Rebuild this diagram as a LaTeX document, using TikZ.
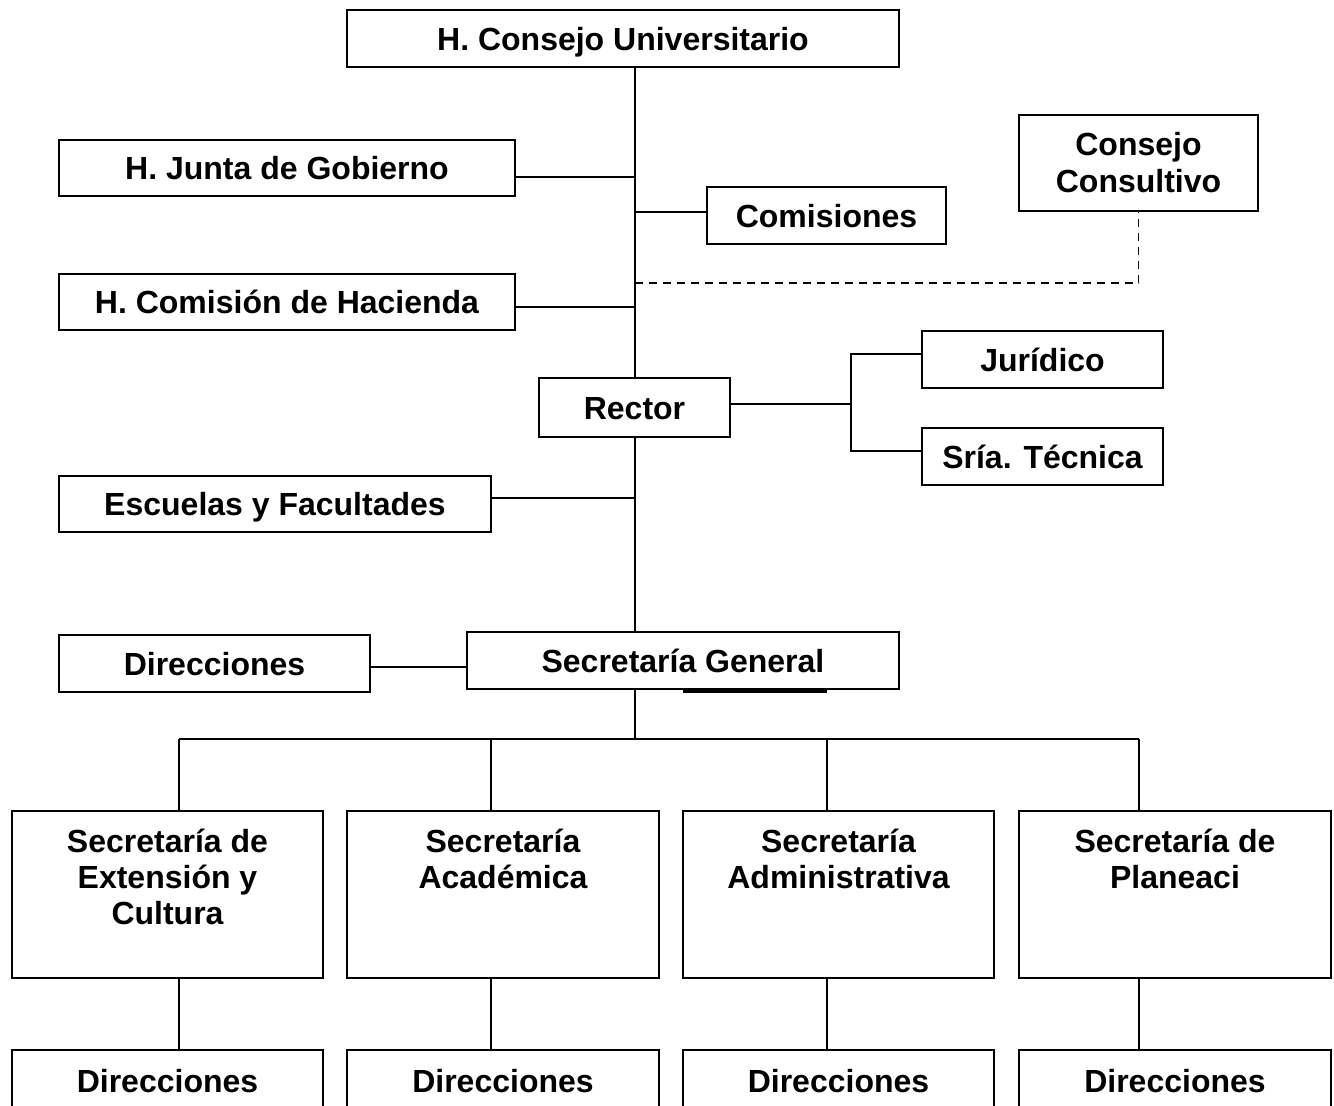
\documentclass[tikz,border=0pt]{standalone}
\usepackage{fontspec}
\setmainfont{Liberation Sans}
\begin{document}
\begin{tikzpicture}[x=1pt,y=-1pt,
  line width=2pt,
  bx/.style={draw, line width=2pt, inner sep=0pt, font=\bfseries\fontsize{32}{36}\selectfont, text height=23pt, text depth=0pt},
  bxm/.style={draw, line width=2pt, inner sep=0pt, font=\bfseries\fontsize{32}{37}\selectfont, align=center},
  plain/.style={draw, line width=2pt, inner sep=0pt},
  lbl/.style={inner sep=0pt, font=\bfseries\fontsize{32}{36}\selectfont, align=center, anchor=north}]
\clip (0,0) rectangle (1334,1106);
\fill[white] (0,0) rectangle (1334,1106);
% top boxes
\node[bx, minimum width=552, minimum height=57] (cu) at (623,38.5) {H. Consejo Universitario};
\node[bx, minimum width=456, minimum height=56] (jg) at (287,168) {H. Junta de Gobierno};
\node[bx, minimum width=239, minimum height=57] (com) at (826.5,215.5) {Comisiones};
\node[bxm, minimum width=239, minimum height=96] (cc) at (1138.5,163) {Consejo\\Consultivo};
\node[bx, minimum width=456, minimum height=56] (hac) at (287,302) {H. Comisión de Hacienda};
\node[bx, minimum width=191, minimum height=59] (rec) at (634.5,407.5) {Rector};
\node[bx, minimum width=241, minimum height=57] (jur) at (1042.5,359.5) {Jurídico};
\node[bx, minimum width=241, minimum height=57] (tec) at (1042.5,456.5) {Sría. Técnica};
\node[bx, minimum width=432, minimum height=56] (esc) at (275,504) {Escuelas y Facultades};
\node[bx, minimum width=311, minimum height=57] (dir) at (214.5,663.5) {Direcciones};
\node[bx, minimum width=432, minimum height=57] (sg) at (683,660.5) {Secretaría General};
% secretarías
\node[plain, minimum width=311, minimum height=167] (s1) at (167.5,894.5) {};
\node[plain, minimum width=312, minimum height=167] (s2) at (503,894.5) {};
\node[plain, minimum width=311, minimum height=167] (s3) at (838.5,894.5) {};
\node[plain, minimum width=312, minimum height=167] (s4) at (1175,894.5) {};
\node[lbl] (s1t) at ([yshift=-18pt]s1.north) {Secretaría de\\Extensión y\\Cultura};
\node[lbl] (s2t) at ([yshift=-18pt]s2.north) {Secretaría\\Académica};
\node[lbl] (s3t) at ([yshift=-18pt]s3.north) {Secretaría\\Administrativa};
\node[lbl] (s4t) at ([yshift=-18pt]s4.north) {Secretaría de\\Planeaci};
% direcciones bottom
\node[bx, minimum width=311, minimum height=62] (d1) at (167.5,1081) {Direcciones};
\node[bx, minimum width=312, minimum height=62] (d2) at (503,1081) {Direcciones};
\node[bx, minimum width=311, minimum height=62] (d3) at (838.5,1081) {Direcciones};
\node[bx, minimum width=312, minimum height=62] (d4) at (1175,1081) {Direcciones};
% spine
\draw (rec.north |- cu.south) -- (rec.north);
\draw (rec.south) -- (rec.south |- sg.north);
\draw ([yshift=-9pt]jg.east) -- ([yshift=-9pt]jg.east -| rec.north);
\draw ([yshift=4pt]com.west) -- ([yshift=4pt]com.west -| rec.north);
\draw ([yshift=-5pt]hac.east) -- ([yshift=-5pt]hac.east -| rec.north);
\draw ([yshift=6pt]esc.east) -- ([yshift=6pt]esc.east -| rec.north);
\coordinate (dj) at (634.5,283);
\draw[line width=1.5pt, dash pattern=on 8pt off 6pt] (dj) -| (cc.south);
% rector staff
\coordinate (rj) at (851,404);
\draw (rec.east |- rj) -- (rj);
\draw ([yshift=6pt]jur.west) -| (rj) |- ([yshift=6pt]tec.west);
% direcciones - secretaría general
\draw ([yshift=-3pt]dir.east) -- ([yshift=-3pt]dir.east -| sg.west);
\draw[line width=2.5pt] ([yshift=-1.5pt]sg.south) -- ++(144,0);
% lower tree
\coordinate (bj) at (634.5,739);
\coordinate (h1) at (179,739);
\coordinate (h2) at (491,739);
\coordinate (h3) at (827,739);
\coordinate (h4) at (1139,739);
\draw (sg.south -| bj) -- (bj);
\draw (h1) -- (h4);
\draw (h1) -- (h1 |- s1.north);
\draw (h2) -- (h2 |- s2.north);
\draw (h3) -- (h3 |- s3.north);
\draw (h4) -- (h4 |- s4.north);
\draw (h1 |- s1.south) -- (h1 |- d1.north);
\draw (h2 |- s2.south) -- (h2 |- d2.north);
\draw (h3 |- s3.south) -- (h3 |- d3.north);
\draw (h4 |- s4.south) -- (h4 |- d4.north);
\end{tikzpicture}
\end{document}
